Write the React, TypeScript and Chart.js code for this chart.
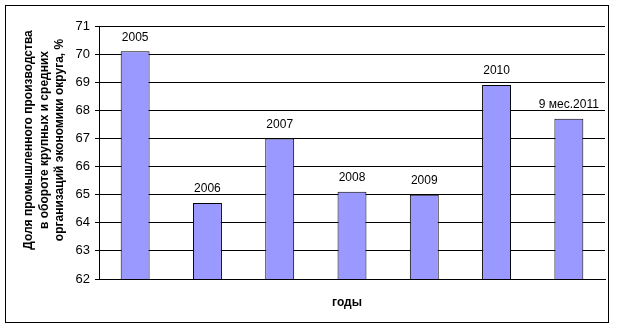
import React, { useEffect, useRef } from "react";
import { Chart, registerables } from "chart.js";

Chart.register(...registerables);

const categories = ["2005", "2006", "2007", "2008", "2009", "2010", "9 мес.2011"];
const shares = [70.1, 64.7, 67.0, 65.1, 65.0, 68.9, 67.7];
const yTitleLines = [
  "Доля промышленного производства",
  "в обороте крупных и средних",
  "организаций экономики округа, %",
];
const xTitle = "годы";
const yMin = 62;
const yMax = 71;

const FONT = "'Liberation Sans', Arial, sans-serif";

const decorPlugin = {
  id: "decor",
  beforeDraw(chart: any) {
    const ctx = chart.ctx;
    ctx.save();
    ctx.fillStyle = "#ffffff";
    ctx.fillRect(0, 0, chart.width, chart.height);
    ctx.strokeStyle = "#000000";
    ctx.lineWidth = 1;
    ctx.strokeRect(5.5, 5.5, 603, 317);
    ctx.restore();
  },
  afterDatasetsDraw(chart: any) {
    const ctx = chart.ctx;
    const meta = chart.getDatasetMeta(0);
    ctx.save();
    ctx.fillStyle = "#000000";
    ctx.font = "12px " + FONT;
    ctx.textAlign = "center";
    ctx.textBaseline = "middle";
    meta.data.forEach((bar: any, i: number) => {
      ctx.fillText(categories[i], bar.x, bar.y - 14);
    });
    // y title
    ctx.font = "bold 12px " + FONT;
    const xs = [29, 44.5, 60];
    yTitleLines.forEach((line, i) => {
      ctx.save();
      ctx.translate(xs[i], 140);
      ctx.rotate(-Math.PI / 2);
      ctx.fillText(line, 0, 0);
      ctx.restore();
    });
    // x title
    const area = chart.chartArea;
    ctx.fillText(xTitle, (area.left + area.right) / 2 - 5, 303);
    ctx.restore();
  },
};

export default function App() {
  const ref = useRef<HTMLCanvasElement | null>(null);
  useEffect(() => {
    if (!ref.current) return;
    const chart = new Chart(ref.current, {
      type: "bar",
      data: {
        labels: categories,
        datasets: [
          {
            data: shares,
            backgroundColor: "#9999FF",
            borderColor: "#000000",
            borderWidth: 1,
            borderSkipped: "bottom",
            categoryPercentage: 1,
            barPercentage: 0.4,
          },
        ],
      },
      options: {
        animation: false,
        responsive: false,
        maintainAspectRatio: false,
        layout: { padding: { left: 0, top: 26, right: 14, bottom: 0 } },
        plugins: {
          legend: { display: false },
          tooltip: { enabled: false },
          title: { display: false },
        },
        scales: {
          x: {
            grid: { display: false },
            border: { display: true, color: "#000000", width: 1 },
            ticks: { display: false },
            afterFit(scale: any) {
              scale.height = 50;
            },
          },
          y: {
            min: yMin,
            max: yMax,
            ticks: {
              stepSize: 1,
              color: "#000000",
              font: { family: FONT, size: 13 },
              padding: 5,
            },
            grid: {
              color: "#000000",
              lineWidth: 1,
              tickLength: 4,
              drawTicks: true,
            },
            border: { display: true, color: "#000000", width: 1 },
            afterFit(scale: any) {
              scale.width = 99;
            },
          },
        },
      },
      plugins: [decorPlugin],
    });
    return () => chart.destroy();
  }, []);
  return (
    <div style={{ position: "fixed", left: 0, top: 0, width: 619, height: 329 }}>
      <canvas ref={ref} width={619} height={329} style={{ width: 619, height: 329, display: "block" }} />
    </div>
  );
}
